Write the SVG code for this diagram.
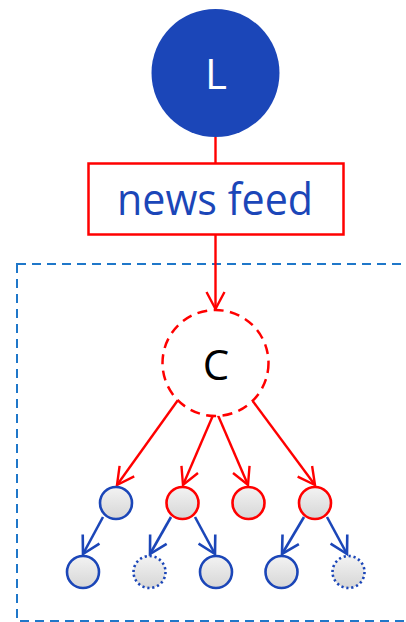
<svg xmlns="http://www.w3.org/2000/svg" width="406" height="622" viewBox="0 0 406 622">
  <style>
    .red { stroke: #ff0000; fill: none; stroke-width: 2.4; }
    .blue { stroke: #1b46b8; fill: none; stroke-width: 2.6; }
    .leaf { fill: url(#leafFill); stroke-width: 2.6; }
    .leaf-blue { stroke: #1b46b8; }
    .leaf-red { stroke: #ff0000; }
    .leaf-dot { stroke: #1b46b8; stroke-dasharray: 2.2 2.8; }
    .label { font-family: "Open Sans", "Noto Sans", "Liberation Sans", sans-serif; }
  </style>
  <defs>
    <linearGradient id="leafFill" x1="0" y1="0" x2="0" y2="1">
      <stop offset="0" stop-color="#f3f3f3"/>
      <stop offset="1" stop-color="#d6d6d6"/>
    </linearGradient>
    <marker id="arrowRed" markerUnits="userSpaceOnUse" viewBox="-22 -12 26 24" refX="0" refY="0" markerWidth="26" markerHeight="24" orient="auto">
      <path d="M-17,-9 L0,0 L-17,9" fill="none" stroke="#ff0000" stroke-width="2.4"/>
    </marker>
    <marker id="arrowBlue" markerUnits="userSpaceOnUse" viewBox="-22 -12 26 24" refX="0" refY="0" markerWidth="26" markerHeight="24" orient="auto">
      <path d="M-17,-9.5 L0,0 L-17,9.5" fill="none" stroke="#1b46b8" stroke-width="2.6"/>
    </marker>
  </defs>

  <!-- scope boundary -->
  <rect x="17" y="264" width="420" height="357" fill="none" stroke="#1f77c9" stroke-width="2" stroke-dasharray="9 6"/>

  <g id="connectors">
    <line class="red" x1="215.5" y1="137" x2="215.5" y2="163"/>
    <line class="red" x1="215.5" y1="235" x2="215.5" y2="309" marker-end="url(#arrowRed)"/>
    <line class="red" x1="178" y1="400" x2="117" y2="485" marker-end="url(#arrowRed)"/>
    <line class="red" x1="214" y1="413" x2="183" y2="485" marker-end="url(#arrowRed)"/>
    <line class="red" x1="217" y1="413" x2="248" y2="485" marker-end="url(#arrowRed)"/>
    <line class="red" x1="252" y1="400" x2="315" y2="485" marker-end="url(#arrowRed)"/>
    <line class="blue" x1="103" y1="517" x2="83" y2="554" marker-end="url(#arrowBlue)"/>
    <line class="blue" x1="171" y1="517" x2="150" y2="554" marker-end="url(#arrowBlue)"/>
    <line class="blue" x1="195" y1="517" x2="215" y2="554" marker-end="url(#arrowBlue)"/>
    <line class="blue" x1="304" y1="517" x2="282" y2="554" marker-end="url(#arrowBlue)"/>
    <line class="blue" x1="327" y1="517" x2="347" y2="554" marker-end="url(#arrowBlue)"/>
  </g>

  <g id="node-L">
    <circle cx="215.5" cy="73" r="64" fill="#1b46b8"/>
    <text class="label" x="216" y="89" font-size="42" fill="#ffffff" text-anchor="middle">L</text>
  </g>

  <g id="node-newsfeed">
    <rect x="88.5" y="163.5" width="255" height="71" fill="#ffffff" stroke="#ff0000" stroke-width="2.5"/>
    <text class="label" x="117" y="215" font-size="44" fill="#1b46b8" textLength="196" lengthAdjust="spacingAndGlyphs">news feed</text>
  </g>

  <g id="node-C">
    <circle cx="215.5" cy="363" r="53" fill="#ffffff" stroke="#ff0000" stroke-width="2.5" stroke-dasharray="10 6.5"/>
    <text class="label" x="216" y="380" font-size="42" fill="#000000" text-anchor="middle">C</text>
  </g>

  <g id="node-a1"><circle class="leaf leaf-blue" cx="116" cy="503" r="16"/></g>
  <g id="node-a2"><circle class="leaf leaf-red" cx="182.5" cy="503" r="16"/></g>
  <g id="node-a3"><circle class="leaf leaf-red" cx="248.5" cy="503" r="16"/></g>
  <g id="node-a4"><circle class="leaf leaf-red" cx="315" cy="503" r="16"/></g>

  <g id="node-b1"><circle class="leaf leaf-blue" cx="83" cy="572" r="16"/></g>
  <g id="node-b2"><circle class="leaf leaf-dot" cx="149.5" cy="572" r="16"/></g>
  <g id="node-b3"><circle class="leaf leaf-blue" cx="216" cy="572" r="16"/></g>
  <g id="node-b4"><circle class="leaf leaf-blue" cx="281.5" cy="572" r="16"/></g>
  <g id="node-b5"><circle class="leaf leaf-dot" cx="348.5" cy="572" r="16"/></g>
</svg>
